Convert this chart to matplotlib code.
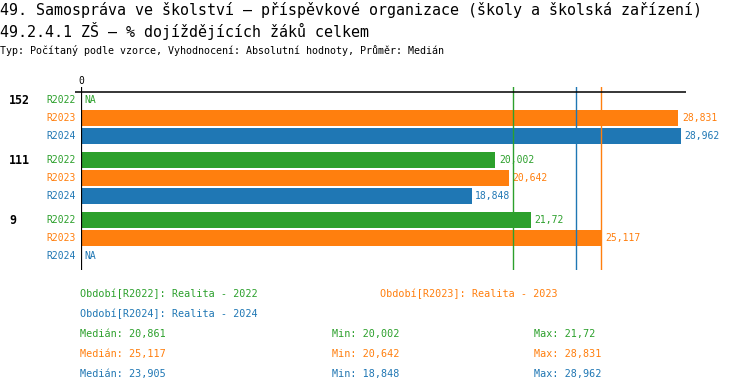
import numpy as np
import matplotlib
matplotlib.use("Agg")
import matplotlib.pyplot as plt
import matplotlib.transforms as mtransforms

# data
groups = ["152", "111", "9"]
periods = ["R2022", "R2023", "R2024"]
period_names = ["Realita - 2022", "Realita - 2023", "Realita - 2024"]
colors = ["#2ca02c", "#ff7f0e", "#1f77b4"]
vals_2022 = [np.nan, 20.002, 21.72]
vals_2023 = [28.831, 20.642, 25.117]
vals_2024 = [28.962, 18.848, np.nan]
values = [vals_2022, vals_2023, vals_2024]

title1 = "49. Samospráva ve školství – příspěvkové organizace (školy a školská zařízení)"
title2 = "49.2.4.1 ZŠ – % dojíždějících žáků celkem"
subtitle = "Typ: Počítaný podle vzorce, Vyhodnocení: Absolutní hodnoty, Průměr: Medián"

def fmt(v):
    return str(round(float(v), 3)).replace(".", ",")

plt.rcParams['font.family'] = ['DejaVu Sans Mono', 'DejaVu Sans']

W, H = 750, 392
fig = plt.figure(figsize=(W / 100, H / 100), dpi=100)

def fx(px):
    return px / W

def fy(py):
    return 1 - py / H

# plot area: x from 81px to 686px, y from 87px to 270px
ax = fig.add_axes([fx(81), fy(270), fx(686) - fx(81), (270 - 87) / H])
ax.set_xlim(0, 29.2)
ax.set_ylim(270, 87)
ax.axis("off")

left_tr = mtransforms.blended_transform_factory(fig.transFigure, ax.transData)

for g, gname in enumerate(groups):
    y0 = 100 + g * 60
    ax.text(fx(9), y0, gname, transform=left_tr, fontsize=8.4, fontweight="bold",
            ha="left", va="center", color="black")
    for i, p in enumerate(periods):
        y = y0 + i * 18
        v = values[i][g]
        ax.annotate(p, xy=(0, y), xytext=(-3.5, 0), textcoords="offset points",
                    ha="right", va="center", fontsize=7, color=colors[i],
                    annotation_clip=False)
        if np.isnan(v):
            ax.annotate("NA", xy=(0, y), xytext=(2.5, 0), textcoords="offset points",
                        ha="left", va="center", fontsize=7, color=colors[i])
        else:
            ax.barh(y, v, height=16, color=colors[i], zorder=2)
            ax.annotate(fmt(v), xy=(v, y), xytext=(2.5, 0), textcoords="offset points",
                        ha="left", va="center", fontsize=7, color=colors[i],
                        annotation_clip=False)

medians = [np.nanmedian(v) for v in values]
mins = [np.nanmin(v) for v in values]
maxs = [np.nanmax(v) for v in values]

for i in range(3):
    ax.axvline(medians[i], color=colors[i], lw=1, zorder=3)

ax.axvline(0, color="black", lw=1.6, zorder=4)
ax.hlines(92, -0.3, 29.2, color="black", lw=1.1, clip_on=False, zorder=4)
ax.text(0, 81, "0", ha="center", va="center", fontsize=7, clip_on=False)

# titles
fig.text(fx(0), fy(10), title1, fontsize=10.8, ha="left", va="center")
fig.text(fx(0), fy(31), title2, fontsize=10.8, ha="left", va="center")
fig.text(fx(0), fy(50), subtitle, fontsize=7.2, ha="left", va="center")

# legend
leg_pos = [(80, 294), (380, 294), (80, 314)]
for i in range(3):
    x, y = leg_pos[i]
    fig.text(fx(x), fy(y), f"Období[{periods[i]}]: {period_names[i]}",
             fontsize=7.3, color=colors[i], ha="left", va="center")

# stats
for i in range(3):
    y = 334 + i * 20
    fig.text(fx(80), fy(y), f"Medián: {fmt(medians[i])}", fontsize=7.3,
             color=colors[i], ha="left", va="center")
    fig.text(fx(332), fy(y), f"Min: {fmt(mins[i])}", fontsize=7.3,
             color=colors[i], ha="left", va="center")
    fig.text(fx(534), fy(y), f"Max: {fmt(maxs[i])}", fontsize=7.3,
             color=colors[i], ha="left", va="center")

fig.savefig("out.png", dpi=100)
